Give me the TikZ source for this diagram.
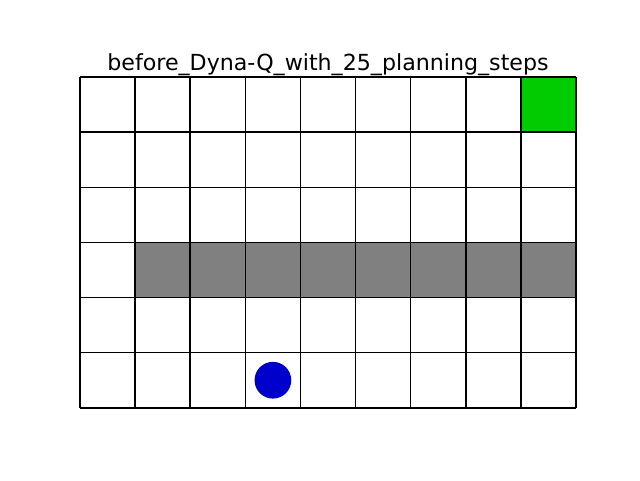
\documentclass[tikz,border=0pt]{standalone}
\usepackage{fontspec}
\setmainfont{DejaVu Sans}
\usepackage{xcolor}

\definecolor{goalgreen}{RGB}{0,204,0}
\definecolor{wallgray}{RGB}{128,128,128}
\definecolor{agentblue}{RGB}{0,0,204}

\begin{document}
\begin{tikzpicture}[x=0.5511in,y=-0.5511in]
				\useasboundingbox (-1.4516,-1.399) rectangle (10.161,7.311);
				\fill[white] (-1.4516,-1.399) rectangle (10.161,7.311);
				\fill[wallgray] (1,3) rectangle (9,4);
				\node[fill=goalgreen,minimum size=0.5511in,inner sep=0pt,anchor=north west] at (8,0) (G) {};
				\node[circle,fill=agentblue,minimum size=0.3674in,inner sep=0pt] at (3.5,5.5) (A) {};
				\foreach \i in {0,...,9}
					\draw[black,line width=1.1pt] (\i,0) -- (\i,6);
				\foreach \j in {0,...,6}
					\draw[black,line width=1.1pt] (0,\j) -- (9,\j);
				\node[anchor=base,font=\fontsize{16}{19}\selectfont,inner sep=0pt] at (4.5,-0.12) (T) {before\_Dyna-Q\_with\_25\_planning\_steps};
			\end{tikzpicture}
\end{document}
